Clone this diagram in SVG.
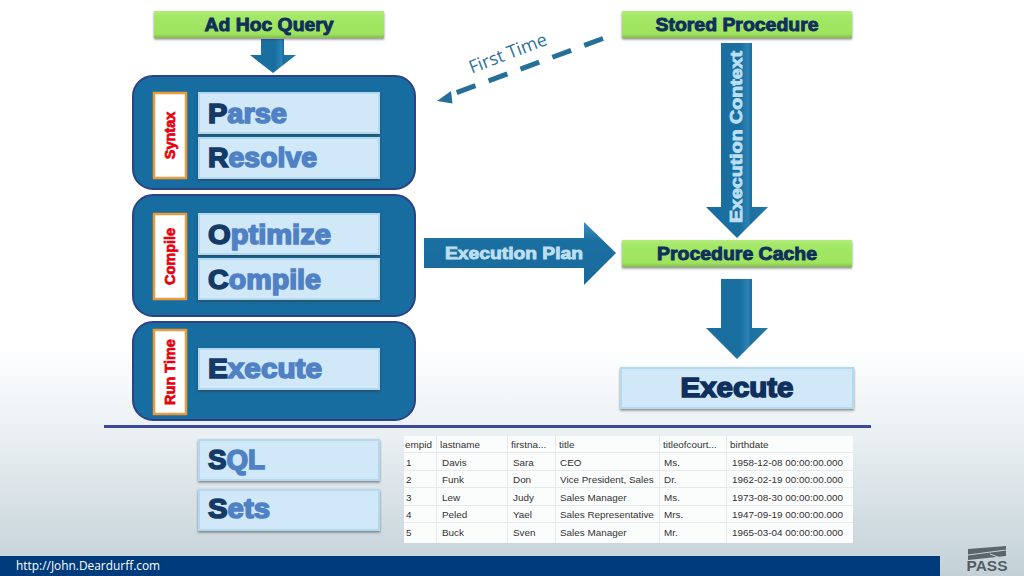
<svg xmlns="http://www.w3.org/2000/svg" width="1024" height="576" viewBox="0 0 1024 576">
<defs>
<linearGradient id="bg" x1="0" y1="0" x2="0" y2="1"><stop offset="0" stop-color="#fff"/><stop offset="0.6" stop-color="#fff"/><stop offset="0.76" stop-color="#e9eff2"/><stop offset="1" stop-color="#c3d1d7"/></linearGradient>
<linearGradient id="green" x1="0" y1="0" x2="0" y2="1"><stop offset="0" stop-color="#b4ec7c"/><stop offset="0.2" stop-color="#a3e866"/><stop offset="0.85" stop-color="#9fe35f"/><stop offset="1" stop-color="#82bd4c"/></linearGradient>
<linearGradient id="arrowV" x1="0" y1="0" x2="1" y2="0"><stop offset="0" stop-color="#1a6d9f"/><stop offset="0.55" stop-color="#1a6fa1"/><stop offset="0.68" stop-color="#2c83b5"/><stop offset="0.72" stop-color="#1c70a2"/><stop offset="1" stop-color="#2379ab"/></linearGradient>
<linearGradient id="arrowH" x1="0" y1="0" x2="0" y2="1"><stop offset="0" stop-color="#3f8fbd"/><stop offset="0.3" stop-color="#1a6fa1"/><stop offset="1" stop-color="#1a6a9b"/></linearGradient>
<filter id="sh" x="-5%" y="-15%" width="110%" height="130%"><feDropShadow dx="0" dy="1.5" stdDeviation="1" flood-color="#333" flood-opacity="0.55"/></filter>
</defs>
<style>
.head{font-family:"Liberation Sans",Arial,sans-serif;font-weight:700;fill:#0f2f5c;stroke:#0f2f5c;text-anchor:middle}
.green{fill:url(#green);filter:url(#sh)}
.panel{fill:#176d9f;stroke:#2d4186;stroke-width:2}
.step{fill:#d0e8f8;stroke:#b4d8ee;stroke-width:2;filter:url(#sh)}
.stepText{font-family:"Liberation Sans",Arial,sans-serif;font-weight:700;font-size:28px;fill:#4f81c4;stroke:#4f81c4;stroke-width:1.6}
.cap{fill:#143a68;stroke:#143a68}
.tag{fill:#fff;stroke:#eb9b3a;stroke-width:2.5}
.tagText{font-family:"Liberation Sans",Arial,sans-serif;font-weight:700;font-size:14.5px;fill:#e8000f;stroke:#e8000f;stroke-width:.7;text-anchor:middle}
.lbl{font-family:"Liberation Sans",Arial,sans-serif;font-weight:700;fill:#bcdff2;stroke:#bcdff2;stroke-width:.9;text-anchor:middle}
.cell{font-family:"Liberation Sans",Arial,sans-serif;font-size:9.9px;fill:#333}
.grid{stroke:#e6eaec;stroke-width:1}
</style>
<rect width="1024" height="576" fill="url(#bg)"/>

<g id="connectors">
<polygon points="261,39 284,39 284,55 296,55 273,73 250,55 261,55" fill="url(#arrowV)"/>
<polygon points="721,43 752,43 752,207 768,207 737,238 706,207 721,207" fill="url(#arrowV)"/>
<polygon points="721,279 752,279 752,328 768,328 737,359 706,328 721,328" fill="url(#arrowV)"/>
<polygon points="424,238 584,238 584,222 616,253 584,285 584,268 424,268" fill="url(#arrowH)"/>
<path d="M603,38.500 L453,94" fill="none" stroke="#266f96" stroke-width="5" stroke-dasharray="20,14"/>
<polygon points="437,101 451,91 452.500,103.600" fill="#266f96"/>
<text transform="translate(510,59) rotate(-21)" font-family="Open Sans,sans-serif" font-size="18" fill="#2f7398" text-anchor="middle">First Time</text>
<text class="lbl" transform="translate(514,259)" font-size="16.500" textLength="138" lengthAdjust="spacingAndGlyphs">Execution Plan</text>
<text class="lbl" transform="translate(742,137) rotate(-90)" font-size="17" textLength="172" lengthAdjust="spacingAndGlyphs">Execution Context</text>
</g>

<g id="adhoc"><rect class="green" x="154" y="11" width="230" height="27"/><text class="head" x="269" y="31" font-size="18" stroke-width=".9" textLength="129" lengthAdjust="spacingAndGlyphs">Ad Hoc Query</text></g>
<g id="stored"><rect class="green" x="622" y="11" width="230" height="27"/><text class="head" x="737" y="31" font-size="18" stroke-width=".9" textLength="163" lengthAdjust="spacingAndGlyphs">Stored Procedure</text></g>
<g id="cache"><rect class="green" x="622" y="240" width="230" height="27"/><text class="head" x="737" y="260" font-size="18" stroke-width=".9" textLength="160" lengthAdjust="spacingAndGlyphs">Procedure Cache</text></g>
<g id="execute-right"><rect class="step" x="621" y="368" width="232" height="40"/><text class="head" x="737" y="397" font-size="28" stroke-width="1.6" textLength="113" lengthAdjust="spacingAndGlyphs">Execute</text></g>

<g id="panel-syntax"><rect class="panel" x="133" y="76" width="282" height="113" rx="20"/><rect class="tag" x="154" y="93" width="32" height="85"/><text class="tagText" transform="translate(175,135.500) rotate(-90)">Syntax</text>
<rect class="step" x="199" y="93" width="180" height="40"/><text class="stepText" x="208" y="123" textLength="79" lengthAdjust="spacingAndGlyphs"><tspan class="cap">P</tspan>arse</text>
<rect class="step" x="199" y="138" width="180" height="40"/><text class="stepText" x="208" y="167" textLength="109" lengthAdjust="spacingAndGlyphs"><tspan class="cap">R</tspan>esolve</text></g>
<g id="panel-compile"><rect class="panel" x="133" y="195" width="282" height="121" rx="20"/><rect class="tag" x="154" y="214" width="32" height="85"/><text class="tagText" transform="translate(175,256.500) rotate(-90)">Compile</text>
<rect class="step" x="199" y="214" width="180" height="40"/><text class="stepText" x="208" y="244" textLength="123" lengthAdjust="spacingAndGlyphs"><tspan class="cap">O</tspan>ptimize</text>
<rect class="step" x="199" y="259" width="180" height="40"/><text class="stepText" x="208" y="289" textLength="113" lengthAdjust="spacingAndGlyphs"><tspan class="cap">C</tspan>ompile</text></g>
<g id="panel-runtime"><rect class="panel" x="133" y="322" width="282" height="98" rx="20"/><rect class="tag" x="154" y="330" width="32" height="84"/><text class="tagText" transform="translate(175,372) rotate(-90)">Run Time</text>
<rect class="step" x="199" y="349" width="180" height="40"/><text class="stepText" x="208" y="378" textLength="114" lengthAdjust="spacingAndGlyphs"><tspan class="cap">E</tspan>xecute</text></g>

<rect id="divider" x="104" y="425" width="767" height="3" fill="#3d4a9c"/>

<g id="sql"><rect class="step" x="199" y="440" width="180" height="40"/><text class="stepText" x="208" y="469" textLength="57" lengthAdjust="spacingAndGlyphs"><tspan class="cap">S</tspan>QL</text></g>
<g id="sets"><rect class="step" x="199" y="490" width="180" height="40"/><text class="stepText" x="208" y="518" textLength="62" lengthAdjust="spacingAndGlyphs"><tspan class="cap">S</tspan>ets</text></g>

<g id="table">
<rect x="404" y="436" width="449" height="107" fill="#fbfcfc"/>
<path class="grid" d="M404,452.500H853M404,470.500H853M404,487.500H853M404,505.500H853M404,522.500H853M436.500,436V543M507.500,436V543M555.500,436V543M659.500,436V543M726.500,436V543"/>
<g class="cell">
<text x="405" y="448">empid</text><text x="440" y="448">lastname</text><text x="511" y="448">firstna...</text><text x="559" y="448">title</text><text x="663" y="448">titleofcourt...</text><text x="730" y="448">birthdate</text>
<text x="406" y="466">1</text><text x="442" y="466">Davis</text><text x="513" y="466">Sara</text><text x="560" y="466">CEO</text><text x="664" y="466">Ms.</text><text x="732" y="466">1958-12-08 00:00:00.000</text>
<text x="406" y="483">2</text><text x="442" y="483">Funk</text><text x="513" y="483">Don</text><text x="560" y="483">Vice President, Sales</text><text x="664" y="483">Dr.</text><text x="732" y="483">1962-02-19 00:00:00.000</text>
<text x="406" y="501">3</text><text x="442" y="501">Lew</text><text x="513" y="501">Judy</text><text x="560" y="501">Sales Manager</text><text x="664" y="501">Ms.</text><text x="732" y="501">1973-08-30 00:00:00.000</text>
<text x="406" y="518">4</text><text x="442" y="518">Peled</text><text x="513" y="518">Yael</text><text x="560" y="518">Sales Representative</text><text x="664" y="518">Mrs.</text><text x="732" y="518">1947-09-19 00:00:00.000</text>
<text x="406" y="536">5</text><text x="442" y="536">Buck</text><text x="513" y="536">Sven</text><text x="560" y="536">Sales Manager</text><text x="664" y="536">Mr.</text><text x="732" y="536">1965-03-04 00:00:00.000</text>
</g></g>

<g id="footer"><rect x="0" y="556" width="940" height="20" fill="#003b7c"/><text x="16" y="570" font-family="Open Sans,sans-serif" font-size="11.900" fill="#fff">http://John.Deardurff.com</text></g>
<g id="logo"><polygon points="968,549 1006,546 1006,556 968,560" fill="#5c656b"/><path d="M968,555L1006,550M990,554L1006,560" stroke="#c5d3d9" stroke-width="1" fill="none"/><text x="987" y="571" font-family="Liberation Sans,sans-serif" font-weight="700" font-size="14" fill="#545c62" text-anchor="middle" textLength="41" lengthAdjust="spacingAndGlyphs">PASS</text></g>
</svg>
